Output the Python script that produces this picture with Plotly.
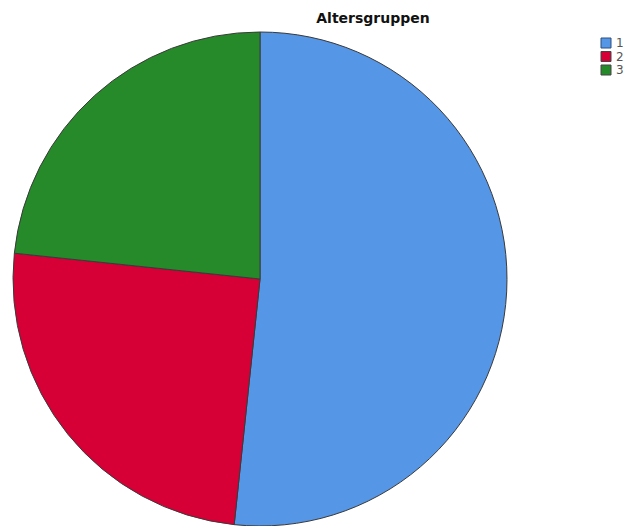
import plotly.graph_objects as go

categories = ["1", "2", "3"]
values = [31, 15, 14]
colors = ["#5596E6", "#D70036", "#278A2A"]
title_text = "Altersgruppen"

W, H = 630, 526
ML, MR, MT, MB = 12, 122, 32, 0
PW, PH = W - ML - MR, H - MT - MB


def px_x(x):
    return (x - ML) / PW


def px_y(y):
    return 1 - (y - MT) / PH


fig = go.Figure(go.Pie(
    labels=categories,
    values=values,
    sort=False,
    direction="clockwise",
    rotation=0,
    textinfo="none",
    showlegend=False,
    marker=dict(colors=colors, line=dict(color="#3a3a3a", width=1)),
))

# legend drawn as small boxes + labels (compact spacing like the reference)
leg_x0, leg_y0, box, step = 601, 38, 10, 13.5
shapes, annos = [], []
for i, (lab, col) in enumerate(zip(categories, colors)):
    y0 = leg_y0 + i * step
    shapes.append(dict(type="rect", xref="paper", yref="paper",
                       x0=px_x(leg_x0), x1=px_x(leg_x0 + box),
                       y0=px_y(y0), y1=px_y(y0 + box),
                       fillcolor=col, line=dict(color="#2f4f7f" if i == 0 else "#444", width=1)))
    annos.append(dict(text=lab, xref="paper", yref="paper",
                      x=px_x(leg_x0 + box + 3), y=px_y(y0 + box / 2),
                      xanchor="left", yanchor="middle", showarrow=False,
                      font=dict(size=12, color="#555")))

fig.update_layout(
    width=W, height=H,
    margin=dict(l=ML, r=MR, t=MT, b=MB),
    paper_bgcolor="white",
    plot_bgcolor="white",
    font=dict(family="DejaVu Sans, Verdana, sans-serif", size=11, color="#333"),
    title=dict(text="<b>" + title_text + "</b>", xref="container", yref="container",
               x=373 / W, y=1 - 18 / H, xanchor="center", yanchor="middle",
               font=dict(size=14, color="#111")),
    shapes=shapes,
    annotations=annos,
)

fig.write_html("out.html", config={"displayModeBar": False},
               post_script="document.body.style.margin='0';")
